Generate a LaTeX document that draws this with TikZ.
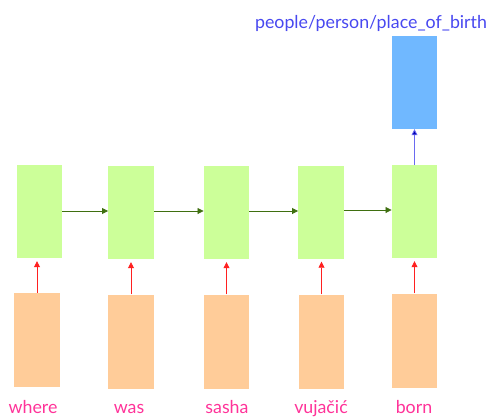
\documentclass[tikz,border=0pt]{standalone}
\usepackage{fontspec}
\setmainfont{Lato}
\usetikzlibrary{arrows.meta}
\definecolor{hidgreen}{HTML}{CCFF99}
\definecolor{wordorange}{HTML}{FFCC99}
\definecolor{outblue}{HTML}{70B8FF}
\definecolor{recgreen}{HTML}{3F6F10}
\definecolor{inred}{HTML}{FF2020}
\definecolor{uparrow}{HTML}{6A6AF0}
\definecolor{labelblue}{HTML}{4848F0}
\definecolor{wordpink}{HTML}{FF3399}
\tikzset{
  cell/.style={draw=none, minimum width=45.5pt, minimum height=93pt, inner sep=0pt},
  hidden/.style={cell, fill=hidgreen},
  wordbox/.style={cell, fill=wordorange, minimum height=94pt},
  outbox/.style={cell, fill=outblue},
  recur/.style={draw=recgreen, line width=0.8pt, -{Triangle[length=6pt,width=6pt]}},
  inarrow/.style={draw=inred, line width=0.8pt, -{Triangle[length=6pt,width=6pt]}, shorten >=3pt},
  outarrow/.style={draw=uparrow, line width=0.8pt, -{Triangle[length=6pt,width=6pt,fill=blue!70!black]}},
  word/.style={text=wordpink, font=\fontsize{17.8}{21}\selectfont, anchor=base, inner sep=0pt},
  relation/.style={text=labelblue, font=\fontsize{17.8}{21}\selectfont, anchor=base, inner sep=0pt}
}
\begin{document}
\begin{tikzpicture}[x=1pt,y=-1pt]
\useasboundingbox (0,0) rectangle (488,416);

% recurrent hidden states
\node[hidden] (g1) at (39.5,211.5) {};
\node[hidden] (g2) at (131,212.5) {};
\node[hidden] (g3) at (226.5,212.5) {};
\node[hidden] (g4) at (321,212) {};
\node[hidden] (g5) at (414.5,211.5) {};

% word embeddings
\node[wordbox] (o1) at (37,340) {};
\node[wordbox] (o2) at (131,341.5) {};
\node[wordbox] (o3) at (226.5,341.5) {};
\node[wordbox] (o4) at (321.5,341.5) {};
\node[wordbox] (o5) at (414.5,340.5) {};

% output layer
\node[outbox] (b) at (414.5,82.5) {};
\node[relation] (rel) at (371,28) {people/person/place\_of\_birth};

% words
\node[word] (w1) at (33,413) {where};
\node[word] (w2) at (129,413) {was};
\node[word] (w3) at (227,413) {sasha};
\node[word] (w4) at (321,413) {vujačić};
\node[word] (w5) at (414,413) {born};

% recurrence
\draw[recur] (g1.east |- 0,211) -- (g2.west |- 0,211);
\draw[recur] (g2.east |- 0,211) -- (g3.west |- 0,211);
\draw[recur] (g3.east |- 0,211) -- (g4.west |- 0,211);
\draw[recur] (g4.east |- 0,210) -- (g5.west |- 0,210);

% inputs
\foreach \i in {1,...,5}{
  \draw[inarrow] (o\i.north) -- (o\i.north |- g\i.south);
}

% output
\draw[outarrow] (g5.north) -- (b.south);
\end{tikzpicture}
\end{document}
